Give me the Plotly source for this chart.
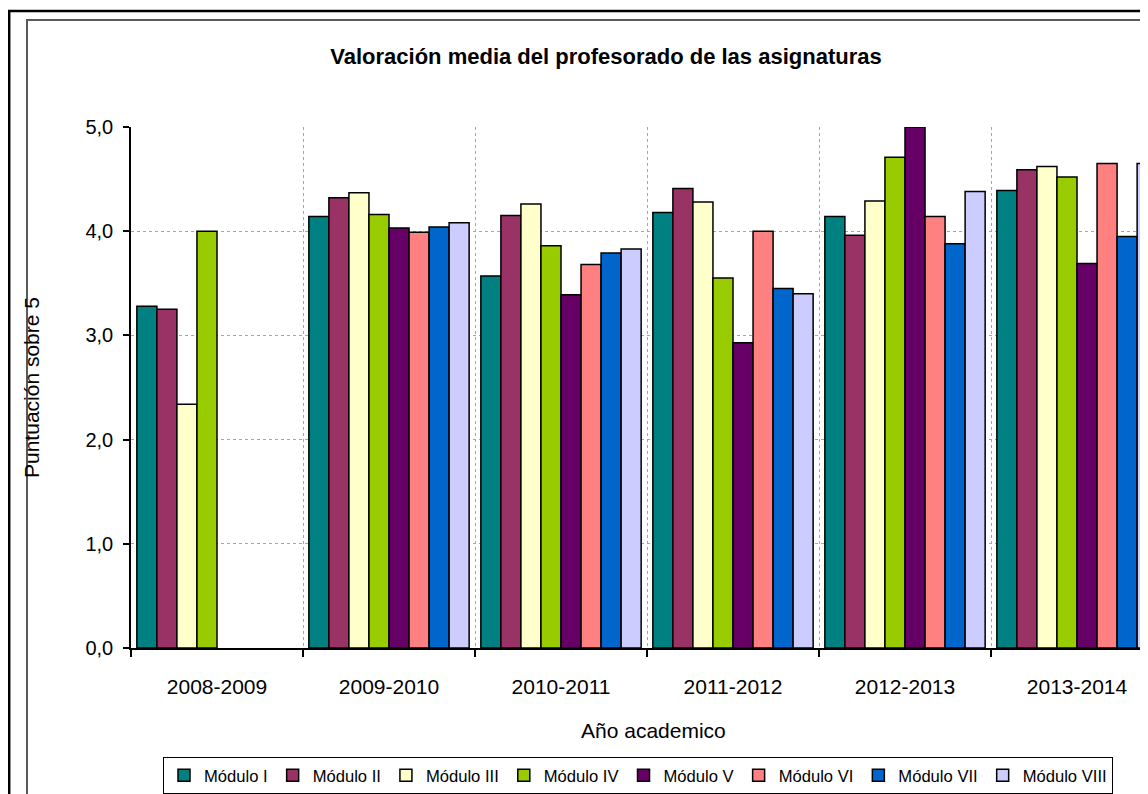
import plotly.graph_objects as go

years = ["2008-2009", "2009-2010", "2010-2011", "2011-2012", "2012-2013", "2013-2014"]

modulo_1 = [3.28, 4.14, 3.57, 4.18, 4.14, 4.39]
modulo_2 = [3.25, 4.32, 4.15, 4.41, 3.96, 4.59]
modulo_3 = [2.34, 4.37, 4.26, 4.28, 4.29, 4.62]
modulo_4 = [4.00, 4.16, 3.86, 3.55, 4.71, 4.52]
modulo_5 = [None, 4.03, 3.39, 2.93, 5.00, 3.69]
modulo_6 = [None, 3.99, 3.68, 4.00, 4.14, 4.65]
modulo_7 = [None, 4.04, 3.79, 3.45, 3.88, 3.95]
modulo_8 = [None, 4.08, 3.83, 3.40, 4.38, 4.65]

series_names = ["Módulo I", "Módulo II", "Módulo III", "Módulo IV",
                "Módulo V", "Módulo VI", "Módulo VII", "Módulo VIII"]
series_values = [modulo_1, modulo_2, modulo_3, modulo_4,
                 modulo_5, modulo_6, modulo_7, modulo_8]
colors = ["#008080", "#993366", "#FFFFCC", "#99CC00",
          "#660066", "#FF8080", "#0066CC", "#CCCCFF"]

# the page body has an 8px margin: lay out in screen coordinates minus 8
OFF = 8
SW, SH = 1148, 794
W, H = SW - OFF, SH - OFF
L, T, B = 131 - OFF, 127 - OFF, 648 - OFF
R = 0
cat_px = 172.0
FONT = "Arial, 'Liberation Sans', sans-serif"

PW = W - L - R
PH = B - T


def px_x(sx):
    return (sx - OFF - L) / PW


def px_y(sy):
    return (B - (sy - OFF)) / PH


fig = go.Figure()
for name, vals, col in zip(series_names, series_values, colors):
    fig.add_trace(go.Bar(
        x=years, y=vals, name=name,
        marker=dict(color=col, line=dict(color="#000000", width=1.5)),
    ))

x_end = -0.5 + PW / cat_px

fig.update_layout(
    width=W, height=H,
    paper_bgcolor="white", plot_bgcolor="white",
    separators=",.",
    barmode="group", bargap=0.068, bargroupgap=0,
    margin=dict(l=L, r=R, t=T, b=H - B, pad=0),
    font=dict(family=FONT, size=20, color="black"),
    title=dict(text="<b>Valoración media del profesorado de las asignaturas</b>",
               font=dict(family=FONT, size=22, color="black"),
               xref="container", yref="container",
               x=(606 - OFF) / W, y=1 - (56 - OFF) / H,
               xanchor="center", yanchor="middle"),
    showlegend=True,
    legend=dict(orientation="h", x=px_x(163), y=px_y(757),
                xanchor="left", yanchor="top",
                bordercolor="black", borderwidth=1,
                font=dict(family=FONT, size=16.6, color="black"),
                itemwidth=30, traceorder="normal", bgcolor="white",
                tracegroupgap=0),
    xaxis=dict(type="category", range=[-0.5, x_end],
               tickson="boundaries", ticks="outside", ticklen=7,
               tickcolor="black", tickwidth=1.5,
               showline=True, linecolor="black", linewidth=1.5,
               showgrid=True, gridcolor="#A6A6A6", griddash="dot", gridwidth=1,
               tickfont=dict(size=21), ticklabelstandoff=19, fixedrange=True),
    yaxis=dict(range=[0, 5], dtick=1, tick0=0, tickformat=".1f",
               ticks="outside", ticklen=6, tickcolor="black", tickwidth=1.5,
               showline=True, linecolor="black", linewidth=1.5,
               showgrid=True, gridcolor="#A6A6A6", griddash="dot", gridwidth=1,
               zeroline=False, tickfont=dict(size=20), ticklabelstandoff=6,
               fixedrange=True),
    annotations=[
        dict(text="Puntuación sobre 5", textangle=-90, xref="paper", yref="paper",
             x=px_x(31), y=px_y(388), xanchor="center", yanchor="middle",
             showarrow=False, font=dict(family=FONT, size=21, color="black")),
        dict(text="Año academico", xref="paper", yref="paper",
             x=px_x(653), y=px_y(730), xanchor="center", yanchor="middle",
             showarrow=False, font=dict(family=FONT, size=21, color="black")),
    ],
    shapes=[
        dict(type="rect", xref="paper", yref="paper",
             x0=px_x(9.2), y0=px_y(11), x1=px_x(SW + 20), y1=px_y(SH + 20),
             line=dict(color="black", width=2.5), layer="above"),
        dict(type="rect", xref="paper", yref="paper",
             x0=px_x(27), y0=px_y(20), x1=px_x(SW + 20), y1=px_y(SH + 20),
             line=dict(color="#5A5A5A", width=2), layer="above"),
    ],
)

fig.write_html("out.html")
